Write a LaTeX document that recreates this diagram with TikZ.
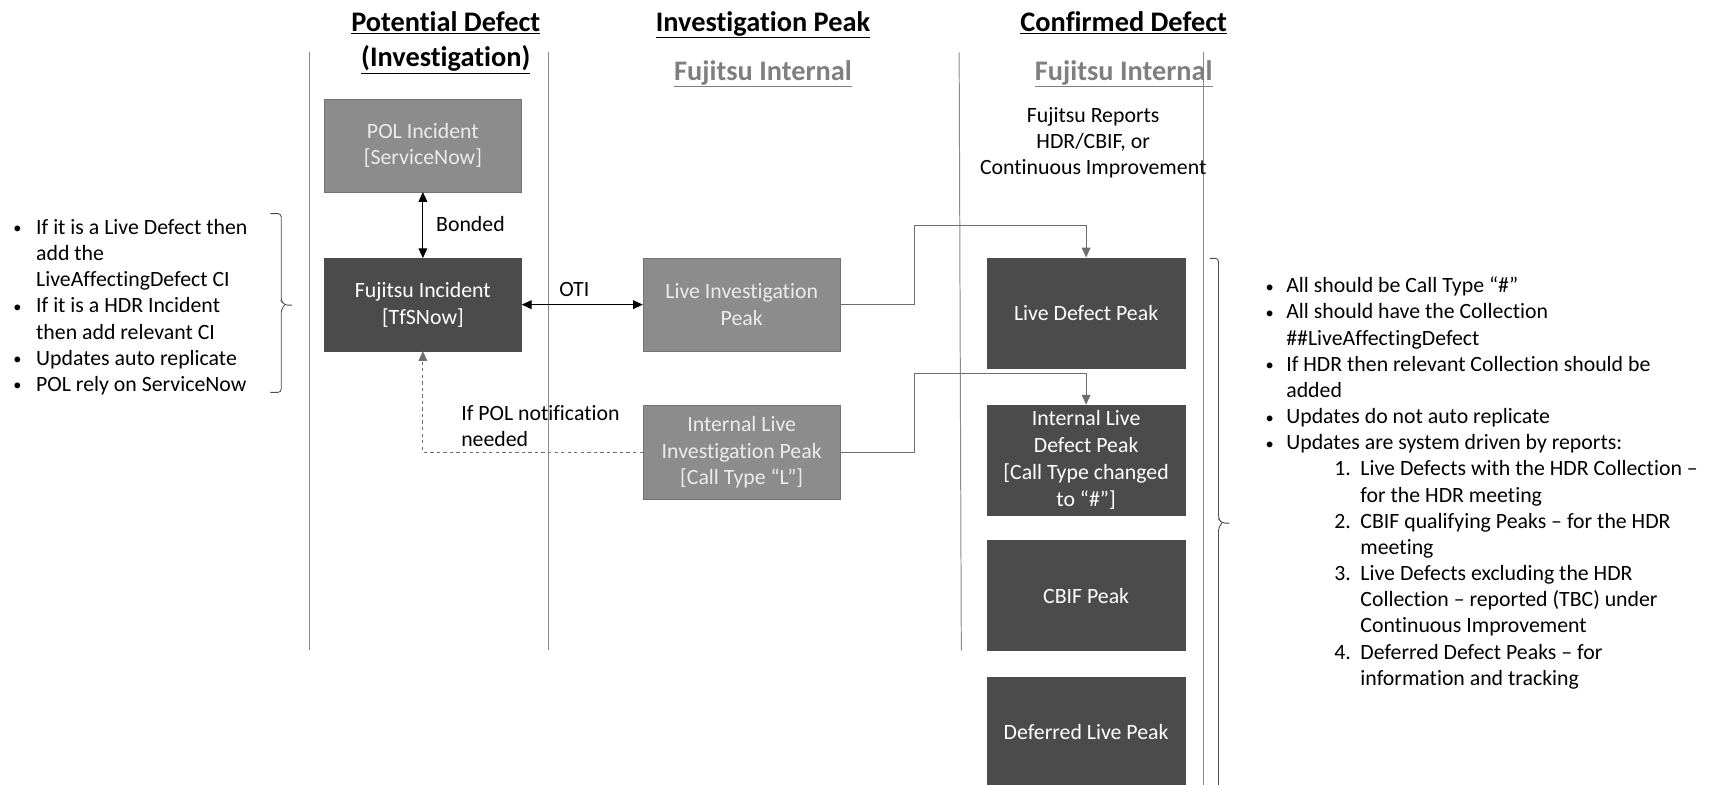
\documentclass[tikz,border=0pt]{standalone}
\usepackage{fontspec}
\setmainfont{Carlito}[Ligatures=NoCommon]
\usetikzlibrary{arrows.meta}
\definecolor{midbox}{HTML}{8C8C8C}
\definecolor{darkbox}{HTML}{4B4B4B}
\definecolor{sepgray}{HTML}{8A8A8A}
\definecolor{conngray}{HTML}{6E6E6E}
\definecolor{subgray}{HTML}{7F7F7F}
\newcommand{\bul}{\makebox[0pt][l]{\fontsize{15}{24}\selectfont\raisebox{0.5pt}{•}}}
\begin{document}
\begin{tikzpicture}[x=1pt,y=-1pt,
 body/.style={font=\fontsize{20}{24}\selectfont, inner sep=0pt},
 title/.style={font=\fontsize{26}{31}\selectfont\bfseries, inner sep=0pt, anchor=base},
 subtitle/.style={title, text=subgray},
 midbx/.style={draw=black!55, fill=midbox, text=white!92!black, minimum width=181pt, minimum height=85pt, align=center, inner sep=0pt, font=\fontsize{20}{24.5}\selectfont},
 darkbx/.style={midbx, fill=darkbox, draw=darkbox, text=white, minimum height=101pt},
 sepline/.style={draw=sepgray, line width=0.9pt},
 bconn/.style={{Triangle[length=9pt,width=8pt]}-{Triangle[length=9pt,width=8pt]}, line width=0.9pt},
 gconn/.style={-{Triangle[length=9pt,width=8pt]}, draw=conngray, line width=0.9pt},
 brace/.style={draw=black!70, line width=0.8pt, rounded corners=3pt}
]
\useasboundingbox (0,0) rectangle (1568,720);

% column separators
\draw[sepline] (284,48) -- (284,596);
\draw[sepline] (503,48) -- (503,596);
\draw[sepline] (880,48) -- (882,597);
\draw[sepline] (1104,48) -- (1104,720);

% titles
\node[title] (t1a) at (409,28.5) {\underline{Potential Defect}};
\node[title] (t1b) at (409,61) {\underline{(Investigation)}};
\node[title] (t2) at (700,28.5) {\underline{Investigation Peak}};
\node[title] (t3) at (1031,28.5) {\underline{Confirmed Defect}};
\node[subtitle] (s2) at (700,73.5) {\underline{Fujitsu Internal}};
\node[subtitle] (s3) at (1031,73.5) {\underline{Fujitsu Internal}};

\node[body, align=center, anchor=north] (reports) at (1003,98) {Fujitsu Reports\\HDR/CBIF, or\\Continuous Improvement};

% boxes
\node[midbx] (polinc) at (388,133.5) {POL Incident\\{[ServiceNow]}};
\node[midbx, fill=darkbox, draw=darkbox, text=white] (fujinc) at (388,279.5) {Fujitsu Incident\\{[TfSNow]}};
\node[midbx] (liveinv) at (680.5,279.5) {Live Investigation\\Peak};
\node[midbx, minimum height=86pt] (intinv) at (680.5,415) {Internal Live\\Investigation Peak\\{[Call Type “L”]}};
\node[darkbx] (livedef) at (996.5,287) {Live Defect Peak};
\node[darkbx] (intdef) at (996.5,422) {Internal Live\\Defect Peak\\{[Call Type changed}\\to “\#”{]}};
\node[darkbx] (cbif) at (996.5,546.5) {CBIF Peak};
\node[darkbx] (deferred) at (996.5,671.5) {Deferred Live Peak};

% connectors
\draw[bconn] (polinc.south) -- (fujinc.north);
\node[body, anchor=base west] (bonded) at (400,212) {Bonded};
\draw[bconn] (fujinc.east) -- (liveinv.west);
\node[body, anchor=base west] (oti) at (513,272) {OTI};
\draw[gconn] (liveinv.east) -- ++(68,0) |- ([yshift=29pt]livedef.north) -- (livedef.north);
\draw[gconn] (intinv.east) -- ++(68,0) |- ([yshift=29pt]intdef.north) -- (intdef.north);
\draw[gconn, dashed] (intinv.west) -| (fujinc.south);
\node[body, align=left, anchor=north west] (polnote) at (423,372) {If POL notification\\needed};

% left notes and brace
\node[body, align=left, anchor=north west] (leftnotes) at (12,201) {%
\bul\hspace*{21pt}If it is a Live Defect then\\
\hspace*{21pt}add the\\
\hspace*{21pt}LiveAffectingDefect CI\\
\bul\hspace*{21pt}If it is a HDR Incident\\
\hspace*{21pt}then add relevant CI\\
\bul\hspace*{21pt}Updates auto replicate\\
\bul\hspace*{21pt}POL rely on ServiceNow};
\draw[brace] (248,196) -- (258,196) -- (258,276) -- (261,280) -- (268,280);
\draw[brace] (261,280) -- (258,284) -- (258,360) -- (248,360);

% right brace and notes
\draw[brace] (1110,237) -- (1118,237) -- (1118,476) -- (1121,480) -- (1128,480);
\draw[brace] (1121,480) -- (1118,484) -- (1118,730);
\node[body, align=left, anchor=north west] (rightnotes) at (1161,254) {%
\bul\hspace*{19pt}All should be Call Type “\#”\\
\bul\hspace*{19pt}All should have the Collection\\
\hspace*{19pt}\#\#LiveAffectingDefect\\
\bul\hspace*{19pt}If HDR then relevant Collection should be\\
\hspace*{19pt}added\\
\bul\hspace*{19pt}Updates do not auto replicate\\
\bul\hspace*{19pt}Updates are system driven by reports:\\
\hspace*{63pt}\makebox[24pt][l]{1.}Live Defects with the HDR Collection –\\
\hspace*{87pt}for the HDR meeting\\
\hspace*{63pt}\makebox[24pt][l]{2.}CBIF qualifying Peaks – for the HDR\\
\hspace*{87pt}meeting\\
\hspace*{63pt}\makebox[24pt][l]{3.}Live Defects excluding the HDR\\
\hspace*{87pt}Collection – reported (TBC) under\\
\hspace*{87pt}Continuous Improvement\\
\hspace*{63pt}\makebox[24pt][l]{4.}Deferred Defect Peaks – for\\
\hspace*{87pt}information and tracking};
\end{tikzpicture}
\end{document}
